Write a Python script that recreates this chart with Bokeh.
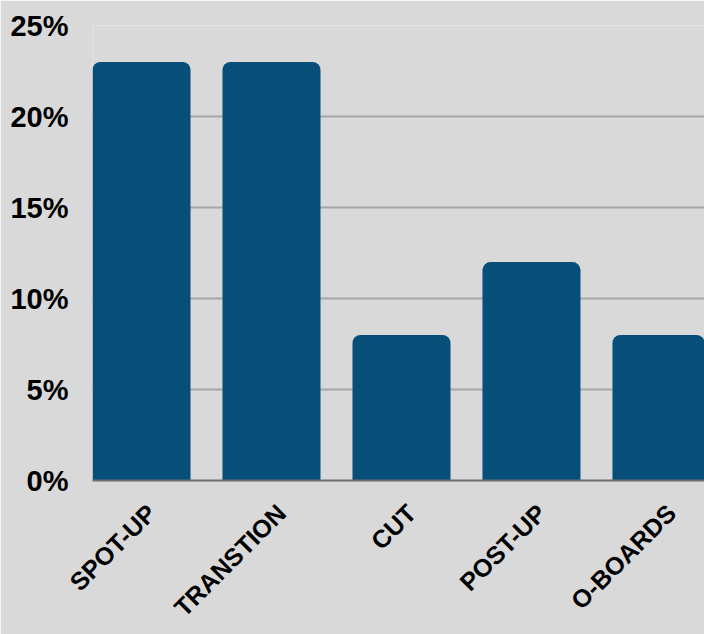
from bokeh.plotting import figure
from bokeh.models import ColumnDataSource, Range1d, FixedTicker
from bokeh.embed import file_html
from bokeh.resources import INLINE
import math

categories = ["SPOT-UP", "TRANSTION", "CUT", "POST-UP", "O-BOARDS"]
values = [23, 23, 8, 12, 8]
y_ticks = [0, 5, 10, 15, 20, 25]

BG = "#d9d9d9"
BAR = "#074f79"
LABEL_SHIFT = 0.077  # nudges rotated category labels so their ends sit just right of bar centres

xs = list(range(len(categories)))
src = ColumnDataSource(data=dict(x=xs, top=values, cat=categories))

p = figure(width=704, height=634, output_backend="svg", toolbar_location=None,
           x_range=Range1d(-0.377, 4.331), y_range=Range1d(0, 25),
           min_border_left=92, min_border_top=25, min_border_bottom=154, min_border_right=0)

p.background_fill_color = BG
p.border_fill_color = BG
p.outline_line_color = None

p.vbar(x="x", top="top", bottom=0, width=0.754, source=src, fill_color=BAR,
       line_color=None, border_radius=(8, 8, 0, 0))

# grid
p.xgrid.grid_line_color = None
p.ygrid.ticker = FixedTicker(ticks=y_ticks)
p.ygrid.grid_line_color = "#a6a6a6"
p.ygrid.grid_line_width = 2

# y axis
p.yaxis.ticker = FixedTicker(ticks=y_ticks)
p.yaxis.major_label_overrides = {t: f"{t}%" for t in y_ticks}
p.yaxis.axis_line_color = None
p.yaxis.major_tick_line_color = None
p.yaxis.minor_tick_line_color = None
p.yaxis.major_tick_out = 0
p.yaxis.major_label_standoff = 24
p.yaxis.major_label_text_font = "Liberation Sans"
p.yaxis.major_label_text_font_style = "bold"
p.yaxis.major_label_text_font_size = "29px"
p.yaxis.major_label_text_color = "black"

# x axis
label_ticks = [x + LABEL_SHIFT for x in xs]
p.xaxis.ticker = FixedTicker(ticks=label_ticks)
p.xaxis.major_label_overrides = {t: c for t, c in zip(label_ticks, categories)}
p.xaxis.major_label_orientation = math.pi / 4
p.xaxis.axis_line_color = "#6e6e6e"
p.xaxis.axis_line_width = 2
p.xaxis.major_tick_line_color = None
p.xaxis.minor_tick_line_color = None
p.xaxis.major_tick_out = 0
p.xaxis.major_label_standoff = 28
p.xaxis.major_label_text_font = "Liberation Sans"
p.xaxis.major_label_text_font_style = "bold"
p.xaxis.major_label_text_font_size = "25px"
p.xaxis.major_label_text_color = "black"

open("out.html", "w").write(file_html(p, INLINE))
